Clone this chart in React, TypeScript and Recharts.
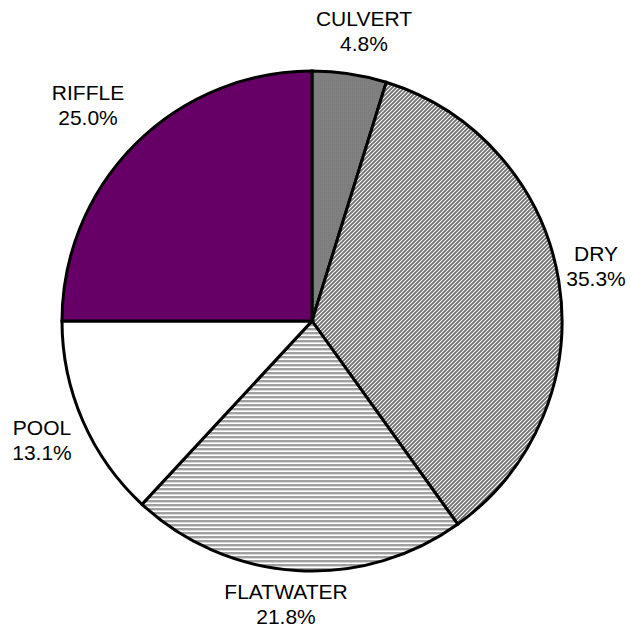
import { PieChart, Pie, Cell } from 'recharts';

const categories = ['CULVERT', 'DRY', 'FLATWATER', 'POOL', 'RIFFLE'];
const shares = [4.8, 35.3, 21.8, 13.1, 25.0];
const fills = ['url(#culvert)', 'url(#dry)', 'url(#flat)', '#ffffff', '#660066'];

// where the data labels sit (centre of the two-line text block)
const LABEL_POS: Record<string, [number, number]> = {
  CULVERT: [364, 31],
  DRY: [596, 266],
  FLATWATER: [286, 604],
  POOL: [42, 440],
  RIFFLE: [88, 105],
};

const data = categories.map((name, i) => ({ name, value: shares[i] }));

const renderLabel = (props: any) => {
  const pos = LABEL_POS[props.name];
  if (!pos) return null;
  const [x, y] = pos;
  return (
    <text
      x={x}
      y={y}
      textAnchor="middle"
      fontFamily="'Liberation Sans', Arial, sans-serif"
      fontSize={21}
      fill="#000"
    >
      <tspan x={x} dy={-5}>{props.name}</tspan>
      <tspan x={x} dy={25}>{props.value.toFixed(1)}%</tspan>
    </text>
  );
};

export default function App() {
  return (
    <div style={{ width: 631, height: 632, background: '#fff' }}>
      <style>{`body{margin:0}`}</style>
      <PieChart width={631} height={632} margin={{ top: 0, right: 0, bottom: 0, left: 0 }}>
        <defs>
          <pattern id="culvert" width="2" height="2" patternUnits="userSpaceOnUse">
            <rect width="2" height="2" fill="#808080" />
            <rect width="1" height="1" fill="#7a7a7a" />
          </pattern>
          <pattern id="dry" width="4" height="4" patternUnits="userSpaceOnUse">
            <rect width="4" height="4" fill="#ffffff" />
            <path d="M0,4 L4,0 M-1,1 L1,-1 M3,5 L5,3" stroke="#707070" strokeWidth="1.8" />
          </pattern>
          <pattern id="flat" width="4" height="4" patternUnits="userSpaceOnUse">
            <rect width="4" height="4" fill="#ffffff" />
            <rect y="0" width="4" height="2" fill="#a0a0a0" />
            <rect y="2" width="4" height="1" fill="#d8d8d8" />
          </pattern>
        </defs>
        <Pie
          data={data}
          dataKey="value"
          nameKey="name"
          cx={312}
          cy={321}
          outerRadius={250}
          startAngle={90}
          endAngle={-270}
          stroke="#000"
          strokeWidth={3}
          label={renderLabel}
          labelLine={false}
          isAnimationActive={false}
        >
          {data.map((d, i) => (
            <Cell key={d.name} fill={fills[i]} />
          ))}
        </Pie>
      </PieChart>
    </div>
  );
}
